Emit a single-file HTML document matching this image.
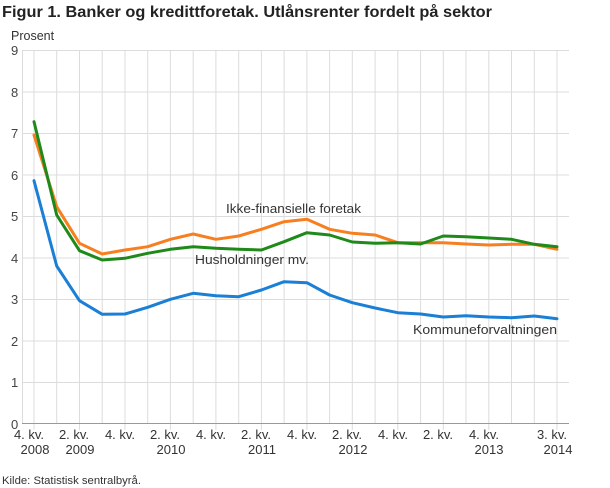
<!DOCTYPE html>
<html><head><meta charset="utf-8"><style>
html,body{margin:0;padding:0;background:#fff;width:610px;height:488px;overflow:hidden}
svg text{font-family:"Liberation Sans","DejaVu Sans",sans-serif}
</style></head><body>
<svg width="610" height="488" viewBox="0 0 610 488" xmlns="http://www.w3.org/2000/svg">
<text x="2" y="17" font-size="16" font-weight="bold" fill="#222" textLength="490" lengthAdjust="spacingAndGlyphs">Figur 1. Banker og kredittforetak. Utlånsrenter fordelt på sektor</text>
<text x="11" y="40" font-size="12.5" fill="#333">Prosent</text>
<g stroke="#dcdcdc" stroke-width="1">
<line x1="22" y1="50.5" x2="569" y2="50.5"/><line x1="22" y1="92" x2="569" y2="92"/>
<line x1="22" y1="133.5" x2="569" y2="133.5"/><line x1="22" y1="175" x2="569" y2="175"/>
<line x1="22" y1="216.5" x2="569" y2="216.5"/><line x1="22" y1="258" x2="569" y2="258"/>
<line x1="22" y1="299.5" x2="569" y2="299.5"/><line x1="22" y1="341" x2="569" y2="341"/>
<line x1="22" y1="382.5" x2="569" y2="382.5"/>
<line x1="22.5" y1="50" x2="22.5" y2="424"/>
<line x1="34" y1="50" x2="34" y2="430"/><line x1="56.7" y1="50" x2="56.7" y2="424"/>
<line x1="79.5" y1="50" x2="79.5" y2="430"/><line x1="102.2" y1="50" x2="102.2" y2="424"/>
<line x1="125" y1="50" x2="125" y2="430"/><line x1="147.7" y1="50" x2="147.7" y2="424"/>
<line x1="170.4" y1="50" x2="170.4" y2="430"/><line x1="193.2" y1="50" x2="193.2" y2="424"/>
<line x1="215.9" y1="50" x2="215.9" y2="430"/><line x1="238.7" y1="50" x2="238.7" y2="424"/>
<line x1="261.4" y1="50" x2="261.4" y2="430"/><line x1="284.1" y1="50" x2="284.1" y2="424"/>
<line x1="306.9" y1="50" x2="306.9" y2="430"/><line x1="329.6" y1="50" x2="329.6" y2="424"/>
<line x1="352.3" y1="50" x2="352.3" y2="430"/><line x1="375.1" y1="50" x2="375.1" y2="424"/>
<line x1="397.8" y1="50" x2="397.8" y2="430"/><line x1="420.6" y1="50" x2="420.6" y2="424"/>
<line x1="443.3" y1="50" x2="443.3" y2="430"/><line x1="466" y1="50" x2="466" y2="424"/>
<line x1="488.8" y1="50" x2="488.8" y2="430"/><line x1="511.5" y1="50" x2="511.5" y2="424"/>
<line x1="534.3" y1="50" x2="534.3" y2="424"/><line x1="557" y1="50" x2="557" y2="430"/>
</g>
<line x1="22" y1="423.5" x2="569" y2="423.5" stroke="#999" stroke-width="1"/>
<g font-size="13" fill="#444" text-anchor="start">
<text x="11" y="55">9</text><text x="11" y="97">8</text><text x="11" y="138">7</text>
<text x="11" y="180">6</text><text x="11" y="221">5</text><text x="11" y="263">4</text>
<text x="11" y="304">3</text><text x="11" y="346">2</text><text x="11" y="387">1</text>
<text x="11" y="429">0</text>
</g>
<g font-size="13" fill="#333" text-anchor="middle">
<text x="29" y="439">4. kv.</text><text x="35" y="454">2008</text>
<text x="74" y="439">2. kv.</text><text x="80" y="454">2009</text>
<text x="120" y="439">4. kv.</text>
<text x="165" y="439">2. kv.</text><text x="171" y="454">2010</text>
<text x="211" y="439">4. kv.</text>
<text x="256" y="439">2. kv.</text><text x="262" y="454">2011</text>
<text x="302" y="439">4. kv.</text>
<text x="347" y="439">2. kv.</text><text x="353" y="454">2012</text>
<text x="393" y="439">4. kv.</text>
<text x="438" y="439">2. kv.</text>
<text x="484" y="439">4. kv.</text><text x="489" y="454">2013</text>
<text x="552" y="439">3. kv.</text><text x="558" y="454">2014</text>
</g>
<g fill="none" stroke-width="3" stroke-linejoin="round" stroke-linecap="round">
<polyline stroke="#f77f1f" points="34,135 56.7,206.7 79.5,243.3 102.2,254 125,250 147.7,246.7 170.4,239.3 193.2,234 215.9,239.3 238.7,236 261.4,229.3 284.1,221.7 306.9,219.3 329.6,229.3 352.3,233.3 375.1,235 397.8,242.7 420.6,242.7 443.3,242.7 466,244 488.8,245 511.5,244.3 534.3,244.3 557,249.3"/>
<polyline stroke="#1f8a1a" points="34,121.7 56.7,215 79.5,250.7 102.2,260 125,258.3 147.7,253.3 170.4,249.3 193.2,246.7 215.9,248.3 238.7,249.3 261.4,250 284.1,241.7 306.9,232.7 329.6,235 352.3,242 375.1,243.3 397.8,242.7 420.6,244 443.3,236 466,236.7 488.8,238 511.5,239.3 534.3,244.3 557,246.7"/>
<polyline stroke="#1a7fd5" points="34,180.7 56.7,266 79.5,300.7 102.2,314.3 125,314 147.7,307.3 170.4,299.3 193.2,293.3 215.9,295.7 238.7,296.7 261.4,290 284.1,281.7 306.9,282.7 329.6,295 352.3,302.7 375.1,308 397.8,312.7 420.6,314 443.3,317 466,315.7 488.8,317 511.5,317.7 534.3,316 557,318.7"/>
</g>
<g font-size="13" fill="#333">
<text x="226" y="213" textLength="135" lengthAdjust="spacingAndGlyphs">Ikke-finansielle foretak</text>
<text x="195" y="264" textLength="114" lengthAdjust="spacingAndGlyphs">Husholdninger mv.</text>
<text x="413" y="334" textLength="144" lengthAdjust="spacingAndGlyphs">Kommuneforvaltningen</text>
</g>
<text x="2" y="484" font-size="11" fill="#333" textLength="139" lengthAdjust="spacingAndGlyphs">Kilde: Statistisk sentralbyrå.</text>
</svg>
</body></html>
